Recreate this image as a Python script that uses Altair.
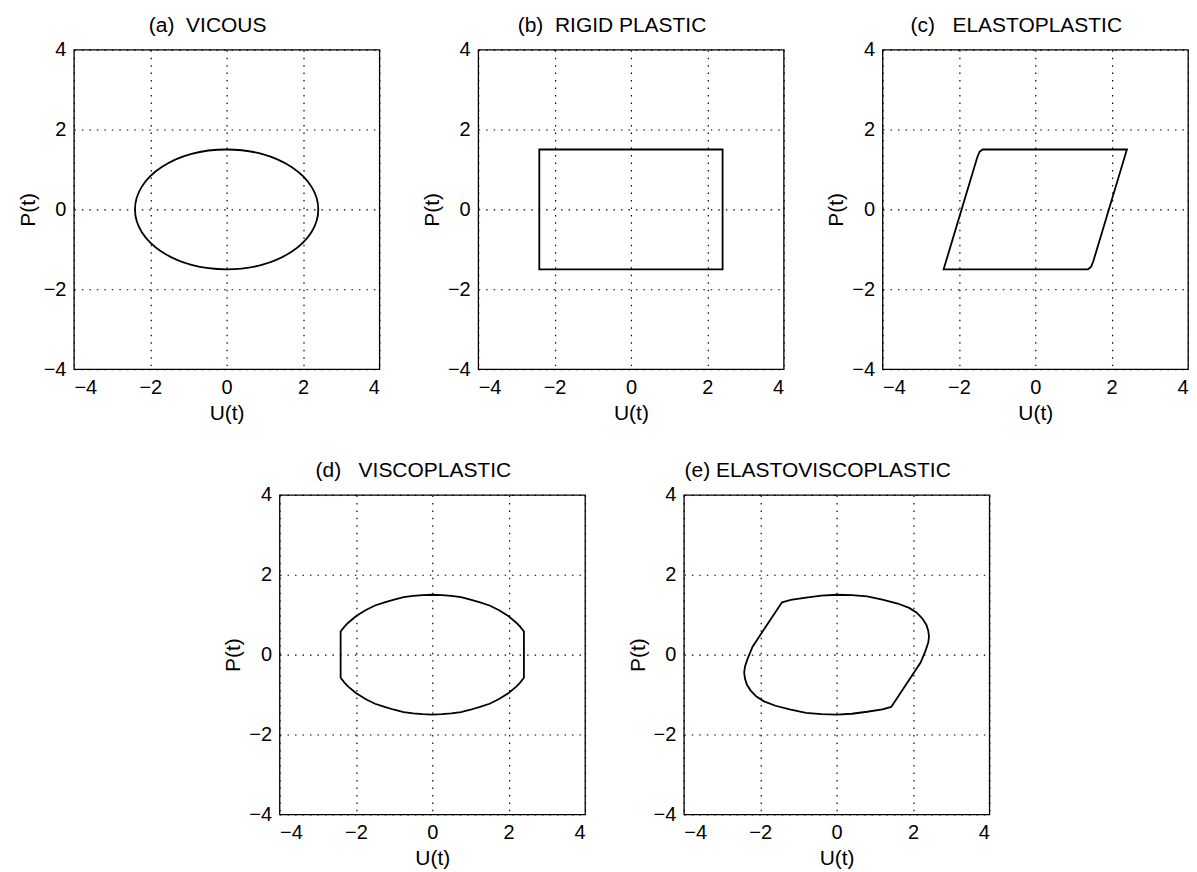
import altair as alt
import pandas as pd

# ---- data ----
TICKS = [-4, -2, 0, 2, 4]

a_u = [2.4, 2.22, 1.7, 0.92, 0.0, -0.92, -1.7, -2.22, -2.4, -2.22, -1.7, -0.92, 0.0, 0.92, 1.7, 2.22]
a_p = [0.0, 0.57, 1.06, 1.39, 1.5, 1.39, 1.06, 0.57, 0.0, -0.57, -1.06, -1.39, -1.5, -1.39, -1.06, -0.57]

b_u = [-2.4, 2.4, 2.4, -2.4]
b_p = [1.5, 1.5, -1.5, -1.5]

c_u = [-2.4, -1.52, -1.46, -1.38, 2.4, 1.52, 1.46, 1.38]
c_p = [-1.5, 1.3, 1.44, 1.5, 1.5, -1.3, -1.44, -1.5]

d_u = [2.4, 2.4, 2.3, 2.2, 2.0, 1.75, 1.5, 1.25, 1.0, 0.75, 0.5, 0.25, 0.0,
       -0.25, -0.5, -0.75, -1.0, -1.25, -1.5, -1.75, -2.0, -2.2, -2.3, -2.4,
       -2.4, -2.3, -2.2, -2.0, -1.75, -1.5, -1.25, -1.0, -0.75, -0.5, -0.25, 0.0,
       0.25, 0.5, 0.75, 1.0, 1.25, 1.5, 1.75, 2.0, 2.2, 2.3]
d_p = [-0.58, 0.58, 0.70, 0.80, 0.96, 1.11, 1.23, 1.31, 1.38, 1.44, 1.47, 1.49, 1.5,
       1.49, 1.47, 1.44, 1.38, 1.31, 1.23, 1.11, 0.96, 0.80, 0.70, 0.58,
       -0.58, -0.70, -0.80, -0.96, -1.11, -1.23, -1.31, -1.38, -1.44, -1.47, -1.49, -1.5,
       -1.49, -1.47, -1.44, -1.38, -1.31, -1.23, -1.11, -0.96, -0.80, -0.70]

e_u = [-1.43, -1.2, -0.8, -0.4, 0.0, 0.4, 0.8, 1.2, 1.6, 1.9, 2.1, 2.25, 2.35, 2.4, 2.42, 2.4, 2.33, 2.2,
       1.43, 1.2, 0.8, 0.4, 0.0, -0.4, -0.8, -1.2, -1.6, -1.9, -2.1, -2.25, -2.35, -2.4, -2.42, -2.4, -2.33, -2.2]
e_p = [1.31, 1.37, 1.43, 1.48, 1.5, 1.49, 1.46, 1.38, 1.28, 1.17, 1.05, 0.9, 0.75, 0.6, 0.45, 0.3, 0.1, -0.2,
       -1.31, -1.37, -1.43, -1.48, -1.5, -1.49, -1.46, -1.38, -1.28, -1.17, -1.05, -0.9, -0.75, -0.6, -0.45, -0.3, -0.1, 0.2]

titles = ["(a)\u00a0 VICOUS", "(b)\u00a0 RIGID PLASTIC", "(c)\u00a0\u00a0 ELASTOPLASTIC",
          "(d)\u00a0\u00a0 VISCOPLASTIC", "(e) ELASTOVISCOPLASTIC"]

FONT = "Liberation Sans"
W, H = 306, 320
GAP = 40


def panel(u, p, title, interp):
    df = pd.DataFrame({"U": u, "P": p, "i": list(range(len(u)))})
    return (
        alt.Chart(df, title=alt.TitleParams(title))
        .mark_line(interpolate=interp, color="black", strokeWidth=1.8)
        .encode(
            x=alt.X("U:Q", scale=alt.Scale(domain=[-4, 4], nice=False, zero=False),
                    axis=alt.Axis(values=TICKS, format="d", title="U(t)")),
            y=alt.Y("P:Q", scale=alt.Scale(domain=[-4, 4], nice=False, zero=False),
                    axis=alt.Axis(values=TICKS, format="d", title="P(t)")),
            order="i:Q",
        )
        .properties(width=W, height=H)
    )


pa = panel(a_u, a_p, titles[0], "cardinal-closed")
pb = panel(b_u, b_p, titles[1], "linear-closed")
pc = panel(c_u, c_p, titles[2], "linear-closed")
pd_ = panel(d_u, d_p, titles[3], "linear-closed")
pe = panel(e_u, e_p, titles[4], "linear-closed")

spacer = (
    alt.Chart(pd.DataFrame({"z": [0]}))
    .mark_point(opacity=0)
    .encode(x=alt.X("z:Q", axis=None), y=alt.Y("z:Q", axis=None))
    .properties(width=108, height=10, view=alt.ViewBackground(strokeOpacity=0))
)

top = alt.hconcat(pa, pb, pc, spacing=GAP)
bottom = alt.hconcat(spacer, pd_, pe, spacing=GAP)

chart = (
    alt.vconcat(top, bottom, spacing=35)
    .properties(padding={"left": 8, "top": 5, "right": 0, "bottom": 0}, background="white")
    .configure_view(stroke="black", strokeWidth=1.3)
    .configure_axis(
        grid=True, gridColor="black", gridDash=[1.5, 6], gridWidth=1.2, gridOpacity=1,
        domain=False, ticks=False, tickSize=0,
        labelFont=FONT, labelFontSize=20, labelColor="black", labelPadding=8,
        titleFont=FONT, titleFontSize=21, titleFontWeight="normal", titleColor="black",
        titlePadding=5,
    )
    .configure_title(font=FONT, fontSize=21, fontWeight="normal", color="black",
                     anchor="middle", frame="group", offset=4, dx=-19)
)

chart.save("out.html", embed_options={"renderer": "svg", "actions": False})
